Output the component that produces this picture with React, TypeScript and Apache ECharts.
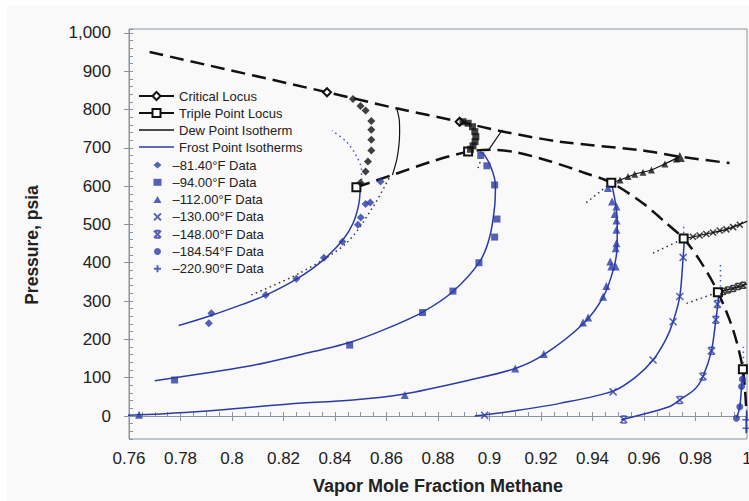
import { useEffect, useRef } from "react";
import * as echarts from "echarts";

// ---------- axis ticks ----------
const yTickValues = [0, 100, 200, 300, 400, 500, 600, 700, 800, 900, 1000];

// ---------- loci ----------
const critLocus = [[0.768, 950], [0.8369, 845], [0.8638, 803], [0.8884, 768], [0.904, 744], [0.9273, 716], [0.9583, 694], [0.9738, 677], [0.9932, 660]];
const critPoints = [[0.8369, 845], [0.8884, 768]];
const tripleLocus = [[0.8483, 597], [0.8623, 629], [0.878, 665], [0.8917, 690], [0.9001, 695], [0.9104, 688], [0.9234, 665], [0.9376, 633], [0.9473, 609], [0.9596, 555], [0.9687, 503], [0.9754, 463], [0.9816, 407], [0.9887, 323], [0.9946, 225], [0.9984, 122], [0.9997, 20]];
const triplePoints = [[0.8483, 597], [0.8917, 690], [0.9473, 609], [0.9754, 463], [0.9887, 323], [0.9984, 122]];

// ---------- dew point isotherms ----------
const dew81 = [[0.864, 803], [0.865, 770], [0.8651, 740], [0.8648, 705], [0.864, 670], [0.8623, 629]];
const dew94 = [[0.905, 747], [0.8994, 692]];
const dew112 = [[0.9473, 609], [0.9507, 616], [0.9564, 631], [0.9629, 642], [0.9681, 658], [0.9739, 677]];
const dew130 = [[0.9754, 463], [0.9842, 475], [0.992, 487], [1.0, 508]];
const dew148 = [[0.9887, 323], [0.9946, 333], [1.0, 344]];

// ---------- frost point isotherms ----------
const frost81 = [[0.7793, 236], [0.7913, 261], [0.8043, 292], [0.8134, 316], [0.825, 357], [0.8354, 407], [0.8431, 460], [0.847, 503], [0.8493, 555], [0.8498, 600]];
const frost94 = [[0.77, 92], [0.8056, 129], [0.8276, 162], [0.8457, 192], [0.86, 228], [0.8742, 272], [0.8858, 325], [0.8962, 403], [0.9001, 468], [0.902, 547], [0.9023, 603], [0.9007, 647], [0.8981, 681], [0.8962, 690]];
const frost112 = [[0.7525, 2], [0.7639, 3], [0.7952, 16], [0.8211, 31], [0.847, 42], [0.8664, 57], [0.8923, 94], [0.91, 124], [0.9211, 160], [0.9363, 240], [0.9441, 310], [0.9484, 390], [0.9496, 450], [0.9496, 510], [0.9488, 560], [0.9473, 609]];
const frost130 = [[0.8943, 0], [0.91, 14], [0.9273, 33], [0.948, 65], [0.957, 103], [0.9635, 146], [0.9685, 200], [0.9713, 246], [0.9739, 312], [0.9752, 414], [0.9757, 463]];
const frost148 = [[0.9512, -10], [0.97, 25], [0.9739, 42], [0.98, 72], [0.9829, 103], [0.9862, 170], [0.9879, 251], [0.9888, 300], [0.9889, 323]];
const frost184 = [[0.9984, 122], [0.9982, 96], [0.9979, 77], [0.9972, 24], [0.9959, -6]];
const frost220 = [[0.99985, 15], [0.9998, -10], [0.9997, -45]];

// ---------- frost data (blue) ----------
const data81 = [[0.792, 268], [0.791, 242], [0.8131, 316], [0.825, 358], [0.8357, 413], [0.8429, 455], [0.8489, 499], [0.85, 518], [0.8519, 553], [0.8537, 557], [0.8577, 612]];
const data94 = [[0.7777, 94], [0.8457, 185], [0.874, 270], [0.8858, 326], [0.8959, 400], [0.902, 467], [0.9029, 514], [0.902, 603], [0.899, 653], [0.8966, 680]];
const data112 = [[0.7639, 3], [0.8671, 55], [0.91, 124], [0.9211, 162], [0.9363, 244], [0.9383, 257], [0.9441, 311], [0.9454, 339], [0.9473, 390], [0.949, 390], [0.9469, 403], [0.949, 438], [0.9493, 451], [0.9493, 486], [0.9493, 510], [0.9486, 527], [0.9493, 547], [0.9476, 560], [0.946, 595]];
const data130 = [[0.8981, 2], [0.948, 63], [0.9635, 146], [0.9713, 246], [0.9739, 312], [0.9752, 414]];
const data148 = [[0.9521, -9], [0.9739, 42], [0.9829, 103], [0.9862, 170], [0.9879, 251], [0.9885, 292]];
const data184 = [[0.9982, 96], [0.9979, 77], [0.9972, 24], [0.9959, -6]];
const data220 = [[0.9997, -10], [0.9998, -32]];

// ---------- dew data (black) ----------
const dewData81 = [[0.847, 827], [0.8499, 809], [0.8519, 797], [0.8541, 770], [0.8541, 747], [0.8541, 721], [0.8541, 693], [0.8528, 664], [0.8519, 638], [0.8499, 609]];
const dewData94 = [[0.8897, 768], [0.8917, 764], [0.8934, 755], [0.8943, 742], [0.8947, 729], [0.8944, 716], [0.8936, 705], [0.8926, 696]];
const dewData112 = [[0.9507, 616], [0.9538, 625], [0.9564, 631], [0.9596, 636], [0.9629, 642], [0.9681, 658], [0.9726, 671]];
const critPoint112 = [[0.9739, 676]];
const dewData130 = [[0.979, 468], [0.9816, 471], [0.9842, 475], [0.9868, 479], [0.9894, 484], [0.992, 487], [0.9946, 493], [0.9972, 499]];
const dewData148 = [[0.9907, 325], [0.9926, 329], [0.9946, 333], [0.9965, 338], [0.9985, 341]];

// ---------- dotted extensions ----------
const dot81 = [[0.8075, 316], [0.8263, 373], [0.8444, 451], [0.8548, 546], [0.8613, 625]];
const dot94 = [[0.8955, 647], [0.8969, 673]];
const dot112 = [[0.9376, 557], [0.9473, 609]];
const dot130 = [[0.9635, 425], [0.9754, 463]];
const dot148 = [[0.9765, 294], [0.9887, 323]];
const bdot81 = [[0.8503, 603], [0.8503, 642], [0.8477, 686], [0.8444, 716], [0.8388, 745]];
const bdot130 = [[0.9754, 494], [0.9754, 463]];
const bdot148 = [[0.9897, 394], [0.9897, 325]];
const bdot184 = [[0.9986, 181], [0.9986, 129]];

const BLUE = "#2b3ba6";
const BLACK = "#111111";
const AXIS = "#8a949e";
const FONT = "'Liberation Sans', Arial, Helvetica, sans-serif";

const SYM_X = "path://M0,0L10,10M10,0L0,10";
const SYM_STAR = "path://M0,0L10,10M10,0L0,10M1.5,0L8.5,0M1.5,10L8.5,10";
const SYM_PLUS = "path://M5,0L5,10M0,5L10,5";
const ICON_LINE = "path://M0,0L35,0L35,1.4L0,1.4Z";

const joinSegments = (segs: number[][][]) => {
  const out: any[] = [];
  segs.forEach((s, i) => {
    if (i > 0) out.push(["-", "-"]);
    s.forEach((p) => out.push(p));
  });
  return out;
};

const isIn = (p: number[], arr: number[][]) => arr.some((q) => q[0] === p[0] && q[1] === p[1]);

const legendLines = ["Critical Locus", "Triple Point Locus", "Dew Point Isotherm", "Frost Point Isotherms"];
const legendData = ["\u201381.40\u00b0F Data", "\u201394.00\u00b0F Data", "\u2013112.00\u00b0F Data", "\u2013130.00\u00b0F Data", "\u2013148.00\u00b0F Data", "\u2013184.54\u00b0F Data", "\u2013220.90\u00b0F Data"];

function scatterStroke(name: string, data: number[][], symbol: string, color: string, size: number) {
  return {
    name, type: "scatter", data, symbol, symbolSize: size, z: 5,
    itemStyle: { color: "rgba(0,0,0,0)", borderColor: color, borderWidth: 1.5 },
  };
}
function scatterFill(name: string, data: number[][], symbol: string, color: string, size: number) {
  return { name, type: "scatter", data, symbol, symbolSize: size, z: 5, itemStyle: { color } };
}

export default function App() {
  const ref = useRef<HTMLDivElement>(null);
  useEffect(() => {
    const chart = echarts.init(ref.current!, null, { renderer: "svg" });
    const option: any = {
      animation: false,
      backgroundColor: "#ffffff",
      textStyle: { fontFamily: FONT },
      graphic: [
        { type: "rect", z: -100, silent: true, shape: { x: 7, y: 5, width: 742, height: 496 }, style: { fill: "#f9f9f9" } },
      ],
      grid: { left: 129, right: 2, top: 29, bottom: 62, show: true, borderColor: AXIS, borderWidth: 1, containLabel: false, outerBoundsMode: "none" },
      legend: [
        {
          orient: "vertical", left: 133, top: 84, itemWidth: 35, itemHeight: 10, itemGap: 3, padding: 5,
          selectedMode: false,
          data: [
            { name: legendLines[0] },
            { name: legendLines[1] },
            { name: legendLines[2], icon: ICON_LINE },
            { name: legendLines[3], icon: ICON_LINE },
          ],
          textStyle: { fontSize: 13, color: "#222", fontFamily: FONT, lineHeight: 14 },
        },
        {
          orient: "vertical", left: 148, top: 153, itemWidth: 8, itemHeight: 7, itemGap: 3.3, padding: 5,
          selectedMode: false, data: legendData,
          textStyle: { fontSize: 13, color: "#222", fontFamily: FONT, lineHeight: 14, padding: [0, 0, 0, 6] },
        },
      ],
      xAxis: [
        {
          type: "value", min: 0.76, max: 1.0, interval: 0.02, position: "bottom",
          name: "Vapor Mole Fraction Methane", nameLocation: "middle", nameGap: 38,
          nameTextStyle: { fontSize: 18, fontWeight: "bold", color: "#222", fontFamily: FONT },
          axisLine: { show: true, lineStyle: { color: AXIS } },
          axisTick: { show: true, inside: false, length: 5, lineStyle: { color: AXIS } },
          axisLabel: { fontSize: 17, color: "#222", margin: 11, fontFamily: FONT, formatter: (v: number) => String(Math.round(v * 100) / 100) },
          splitLine: { show: false },
        },
        {
          type: "value", min: 0.76, max: 1.0, interval: 0.005, position: "bottom",
          axisLine: { show: false }, axisLabel: { show: false }, splitLine: { show: false },
          axisTick: { show: true, inside: true, length: 4, lineStyle: { color: AXIS } },
        },
      ],
      yAxis: [
        {
          type: "value", min: -60, max: 1010, position: "left",
          name: "Pressure, psia", nameLocation: "middle", nameGap: 88,
          nameTextStyle: { fontSize: 17.5, fontWeight: "bold", color: "#222", fontFamily: FONT, padding: [0, 22, 0, 0] },
          axisLine: { show: true, lineStyle: { color: AXIS } },
          axisTick: { show: true, inside: false, length: 5, customValues: yTickValues, lineStyle: { color: AXIS } },
          axisLabel: {
            fontSize: 17, color: "#222", margin: 18, fontFamily: FONT, customValues: yTickValues,
            formatter: (v: number) => v.toLocaleString("en-US"),
          },
          splitLine: { show: false },
        },
        {
          type: "value", min: -60, max: 1010, interval: 20, position: "left",
          axisLine: { show: false }, axisLabel: { show: false }, splitLine: { show: false },
          axisTick: { show: true, inside: true, length: 4, lineStyle: { color: AXIS } },
        },
      ],
      series: [
        {
          name: "Frost Point Isotherms", type: "line", clip: false, symbol: "none", smooth: 0.3, z: 3,
          lineStyle: { color: BLUE, width: 1.5 }, itemStyle: { color: BLUE },
          data: joinSegments([frost81, frost94, frost112, frost130, frost148, frost184, frost220]),
        },
        {
          name: "Dew Point Isotherm", type: "line", symbol: "none", smooth: 0.3, z: 3,
          lineStyle: { color: BLACK, width: 1.2 }, itemStyle: { color: BLACK },
          data: joinSegments([dew81, dew94, dew112, dew130, dew148]),
        },
        {
          name: "dotted", type: "line", symbol: "none", smooth: 0.3, z: 3,
          lineStyle: { color: "#333", width: 1.5, type: [1.5, 3.5] },
          data: joinSegments([dot81, dot94, dot112, dot130, dot148]),
        },
        {
          name: "bluedotted", type: "line", symbol: "none", smooth: 0.3, z: 3,
          lineStyle: { color: "#4a5ad0", width: 1.5, type: [1.5, 3.5] },
          data: joinSegments([bdot81, bdot130, bdot148, bdot184]),
        },
        {
          name: "Critical Locus", type: "line", smooth: 0.3, z: 4, symbol: "emptyDiamond", symbolSize: 8,
          lineStyle: { color: BLACK, width: 2.5, type: [14, 7] },
          itemStyle: { color: BLACK, borderColor: BLACK, borderWidth: 1 },
          data: critLocus.map((p) => ({ value: p, symbol: isIn(p, critPoints) ? "emptyDiamond" : "none" })),
        },
        {
          name: "Triple Point Locus", type: "line", smooth: 0.3, z: 4, symbol: "emptyRect", symbolSize: 8,
          lineStyle: { color: BLACK, width: 2.5, type: [14, 7] },
          itemStyle: { color: BLACK, borderColor: BLACK, borderWidth: 1 },
          data: tripleLocus.map((p) => ({ value: p, symbol: isIn(p, triplePoints) ? "emptyRect" : "none" })),
        },
        scatterFill(legendData[0], data81, "diamond", BLUE, 8),
        scatterFill(legendData[1], data94, "rect", BLUE, 7),
        scatterFill(legendData[2], data112, "triangle", BLUE, 8),
        scatterStroke(legendData[3], data130, SYM_X, BLUE, 7),
        scatterStroke(legendData[4], data148, SYM_STAR, BLUE, 7),
        scatterFill(legendData[5], data184, "circle", BLUE, 7),
        scatterStroke(legendData[6], data220, SYM_PLUS, BLUE, 8),
        scatterFill("dew81", dewData81, "diamond", BLACK, 8),
        scatterFill("dew94", dewData94, "rect", BLACK, 7),
        scatterFill("dew112", dewData112, "triangle", BLACK, 7),
        scatterFill("crit112", critPoint112, "triangle", BLACK, 10),
        scatterStroke("dew130", dewData130, SYM_X, BLACK, 6),
        scatterStroke("dew148", dewData148, SYM_STAR, BLACK, 6),
      ],
    };
    chart.setOption(option);
    return () => chart.dispose();
  }, []);
  return <div ref={ref} style={{ position: "fixed", left: 0, top: 0, width: 749, height: 501 }} />;
}
